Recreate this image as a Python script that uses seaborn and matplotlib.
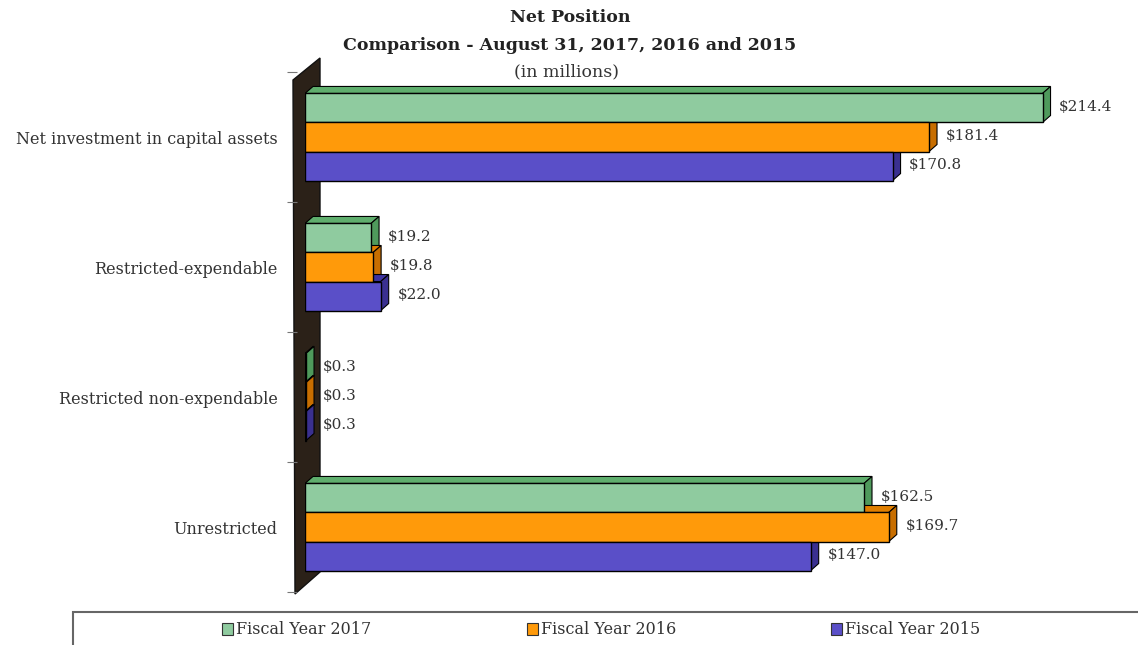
import matplotlib
matplotlib.use("Agg")
import matplotlib.pyplot as plt
import seaborn as sns
import pandas as pd
from matplotlib.patches import Polygon, Patch, Rectangle

categories = ["Net investment in capital assets", "Restricted-expendable",
              "Restricted non-expendable", "Unrestricted"]
years = ["Fiscal Year 2017", "Fiscal Year 2016", "Fiscal Year 2015"]
fy2017 = [214.4, 19.2, 0.3, 162.5]
fy2016 = [181.4, 19.8, 0.3, 169.7]
fy2015 = [170.8, 22.0, 0.3, 147.0]

front = ["#8fcb9f", "#ff9a0a", "#5a4fc8"]
topc = ["#5fae6d", "#e07f00", "#3e33a0"]
sidec = ["#4f9a5c", "#c86e00", "#3a3090"]

rows = []
for yr, vals in zip(years, [fy2017, fy2016, fy2015]):
    for c, v in zip(categories, vals):
        rows.append({"category": c, "year": yr, "value": v})
df = pd.DataFrame(rows)

sns.set_theme(style="white")
plt.rcParams["font.family"] = ["DejaVu Serif", "Liberation Serif"]

W, H = 1138, 645
fig = plt.figure(figsize=(W / 100, H / 100), dpi=100)
ax = fig.add_axes([305 / W, 1 - 592 / H, 795 / W, 520 / H])
ax.set_zorder(2)

sns.barplot(data=df, y="category", x="value", hue="year", hue_order=years,
            order=categories, palette=front, orient="h", width=0.67,
            edgecolor="black", linewidth=1.0, saturation=1, legend=False,
            ax=ax, zorder=3)

ax.set_xlim(0, 795 / 3.44)
ax.set_ylim(3.5, -0.5)

# 3D faces
px_x = (795 / 3.44) / 795.0
px_y = 4.0 / 520.0
dx = 8 * px_x
dy = 7 * px_y
bars = ax.patches[:]
for i, p in enumerate(bars):
    h_idx = i // len(categories)
    x0, y0 = p.get_x(), p.get_y()
    w, h = p.get_width(), p.get_height()
    x1 = x0 + w
    top = Polygon([(x0, y0), (x0 + dx, y0 - dy), (x1 + dx, y0 - dy), (x1, y0)],
                  closed=True, facecolor=topc[h_idx], edgecolor="black",
                  linewidth=0.8, zorder=2)
    side = Polygon([(x1, y0), (x1 + dx, y0 - dy), (x1 + dx, y0 + h - dy), (x1, y0 + h)],
                   closed=True, facecolor=sidec[h_idx], edgecolor="black",
                   linewidth=0.8, zorder=2)
    ax.add_patch(top)
    ax.add_patch(side)
    ax.annotate(f"${w:.1f}", (x1, y0 + h / 2), xytext=(12, 1),
                textcoords="offset points", ha="left", va="center",
                fontsize=11, color="#333333")

# back wall
wall = Polygon([(293 / W, 1 - 80 / H), (320 / W, 1 - 58 / H),
                (320 / W, 1 - 572 / H), (295 / W, 1 - 594 / H)],
               closed=True, transform=fig.transFigure, facecolor="#2b2118",
               edgecolor="#111111", zorder=1)
fig.patches.append(wall)

for s in ["top", "right", "bottom", "left"]:
    ax.spines[s].set_visible(False)
ax.spines["left"].set_position(("outward", 5.8))
ax.set_xticks([])
ax.set_xlabel("")
ax.set_ylabel("")
ax.set_yticks([-0.5, 0.5, 1.5, 2.5, 3.5], minor=True)
ax.tick_params(axis="y", which="minor", length=7, color="#777777", width=0.8,
               direction="out", left=True)
ax.tick_params(axis="y", which="major", length=0, pad=14, labelsize=11.5,
               labelcolor="#333333")
ax.set_facecolor("none")

# titles
fig.text(570 / W, 1 - 18 / H, "Net Position", ha="center", va="center",
         fontsize=12.5, fontweight="bold", color="#222222")
fig.text(570 / W, 1 - 45 / H, "Comparison - August 31, 2017, 2016 and 2015",
         ha="center", va="center", fontsize=12.5, fontweight="bold", color="#222222")
fig.text(567 / W, 1 - 72 / H, "(in millions)", ha="center", va="center",
         fontsize=12.5, color="#333333")

# legend box
fig.patches.append(Rectangle((73 / W, -0.02), 1.0, (1 - 612 / H) + 0.02,
                             transform=fig.transFigure, facecolor="white",
                             edgecolor="#666666", linewidth=1.5, zorder=0))
handles = [Patch(facecolor=front[i], edgecolor="#333333", linewidth=0.8, label=years[i])
           for i in range(3)]
fig.legend(handles=handles, loc="center left", bbox_to_anchor=(222 / W, 1 - 630 / H),
           ncol=3, frameon=False, fontsize=11.5, handlelength=0.7, handleheight=0.7,
           handletextpad=0.2, columnspacing=9.7, borderaxespad=0, borderpad=0,
           labelcolor="#333333")

fig.savefig("out.png", dpi=100)
